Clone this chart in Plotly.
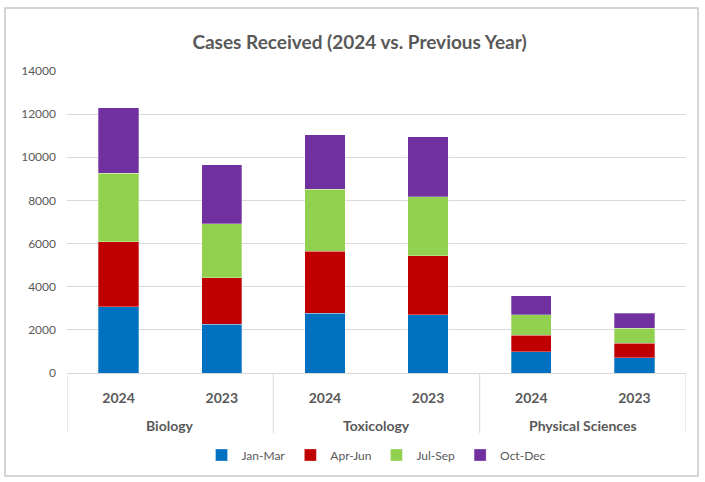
import plotly.graph_objects as go

groups = ["Biology", "Biology", "Toxicology", "Toxicology", "Physical Sciences", "Physical Sciences"]
years = ["2024", "2023", "2024", "2023", "2024", "2023"]
group_names = ["Biology", "Toxicology", "Physical Sciences"]

jan_mar = [3080, 2270, 2780, 2700, 980, 710]
apr_jun = [3010, 2150, 2860, 2740, 780, 680]
jul_sep = [3170, 2500, 2880, 2720, 930, 680]
oct_dec = [3040, 2740, 2530, 2800, 880, 710]

series = [
    ("Jan-Mar", jan_mar, "#0070C0"),
    ("Apr-Jun", apr_jun, "#C00000"),
    ("Jul-Sep", jul_sep, "#92D050"),
    ("Oct-Dec", oct_dec, "#7030A0"),
]

keys = [f"{g} {y}" for g, y in zip(groups, years)]

fig = go.Figure()
for name, vals, color in series:
    fig.add_trace(go.Bar(
        x=keys, y=vals, name=name,
        marker=dict(color=color, line=dict(color="rgba(255,255,255,0.6)", width=0.5)),
    ))

font_family = "Lato, 'Open Sans', sans-serif"
plot_h = 302
fig.update_layout(
    barmode="stack",
    bargap=0.61,
    width=705, height=482,
    margin=dict(l=67, r=19, t=71, b=109),
    paper_bgcolor="white", plot_bgcolor="white",
    font=dict(family=font_family, color="#595959"),
    title=dict(text="Cases Received (2024 vs. Previous Year)", x=0.51, xanchor="center",
               y=1 - 42 / 482, yanchor="middle", font=dict(size=19, color="#595959", weight="bold")),
    legend=dict(orientation="h", x=0.5, xanchor="center", y=-(455 - 373) / plot_h, yanchor="middle",
                font=dict(size=12, color="#595959"), itemwidth=30, traceorder="normal"),
    showlegend=True,
)
fig.update_xaxes(
    type="category", range=[-0.5, 5.5],
    tickvals=keys, ticktext=years,
    showline=True, linecolor="#d9d9d9", linewidth=1,
    tickfont=dict(size=14, color="#595959", weight="bold"),
    ticks="outside", ticklen=12, tickcolor="rgba(0,0,0,0)",
    showgrid=False,
)
fig.update_yaxes(
    range=[0, 14000], dtick=2000, tickformat="d", showgrid=True, gridcolor="#d9d9d9", gridwidth=1,
    zeroline=False, showline=False, tickfont=dict(size=12, color="#595959"),
    ticklabelstandoff=10,
)

# group dividers under the axis
for xd in [-0.5, 1.5, 3.5, 5.5]:
    fig.add_shape(type="line", xref="x", yref="paper", x0=xd, x1=xd, y0=0, y1=-60 / plot_h,
                  line=dict(color="#d9d9d9", width=1))
# group labels
for i, g in enumerate(group_names):
    fig.add_annotation(text=g, xref="x", yref="paper", x=2 * i + 0.5, y=-(425 - 373) / plot_h,
                       yanchor="middle", showarrow=False,
                       font=dict(size=14, color="#595959", weight="bold"))

# chart frame
fig.add_shape(type="rect", xref="paper", yref="paper",
              x0=-62 / 619, x1=1 + 12 / 619, y0=-103 / plot_h, y1=1 + 63 / plot_h,
              line=dict(color="#c8c8c8", width=1.5), fillcolor="rgba(0,0,0,0)", layer="below")

fig.write_html("out.html", config={"displayModeBar": False},
               post_script="document.body.style.margin='0';")
